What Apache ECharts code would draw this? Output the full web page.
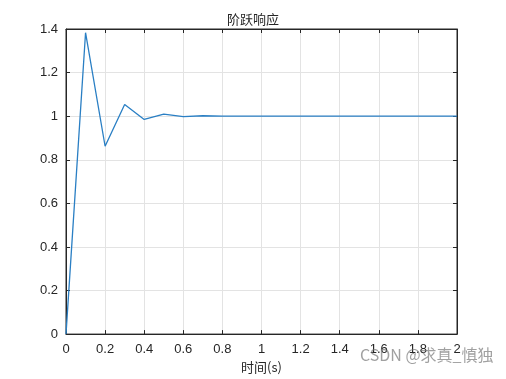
<!DOCTYPE html>
<html><head><meta charset="utf-8">
<script src="https://cdn.jsdelivr.net/npm/echarts@6/dist/echarts.min.js"></script>
<style>html,body{margin:0;padding:0;background:#fff}#c{width:506px;height:379px}</style>
</head><body><div id="c"></div>
<script>
const titleText = '阶跃响应';
const xLabel = '时间(s)';
const watermark = 'CSDN @求真_慎独';
const times = [0,0.1,0.2,0.3,0.4,0.5,0.6,0.7,0.8,0.9,1.0,1.1,1.2,1.3,1.4,1.5,1.6,1.7,1.8,1.9,2.0];
const response = [0,1.383,0.862,1.054,0.985,1.009,0.998,1.002,1.0,1.0,1.0,1.0,1.0,1.0,1.0,1.0,1.0,1.0,1.0,1.0,1.0];

const chart = echarts.init(document.getElementById('c'));
const axisFont = {fontFamily:'Liberation Sans, Arial', fontSize:13, color:'#262626'};
const tick = {show:true,inside:true,length:4,lineStyle:{color:'#262626'}};
const line = {show:true,onZero:false,lineStyle:{color:'#262626'}};
const grid = {show:true,lineStyle:{color:'#e3e3e3'}};
const fmt = v=>String(+v.toFixed(1));
chart.setOption({
  animation:false,
  title:{text:titleText,left:'center',top:8,textStyle:{fontFamily:'Noto Sans CJK SC',fontSize:13,fontWeight:'normal',color:'#262626'}},
  graphic:[{type:'text',left:360,top:347,z:100,style:{text:watermark,fontFamily:'Noto Sans CJK SC, Liberation Sans',fontSize:16,fill:'rgba(120,120,120,0.7)'}}],
  grid:{left:66,right:49,top:29,bottom:41,show:true,borderColor:'#262626',borderWidth:1},
  xAxis:[{type:'value',min:0,max:2,interval:0.2,name:xLabel,nameLocation:'middle',nameGap:22,
    nameTextStyle:{fontFamily:'Noto Sans CJK SC',fontSize:13,color:'#262626'},
    axisLine:line,axisTick:tick,
    axisLabel:Object.assign({margin:9,formatter:fmt},axisFont),
    splitLine:grid},
    {type:'value',position:'top',min:0,max:2,interval:0.2,axisLine:line,axisTick:tick,axisLabel:{show:false},splitLine:{show:false}}],
  yAxis:[{type:'value',min:0,max:1.4,interval:0.2,
    axisLine:line,axisTick:tick,
    axisLabel:Object.assign({margin:8,formatter:fmt},axisFont),
    splitLine:grid},
    {type:'value',position:'right',min:0,max:1.4,interval:0.2,axisLine:line,axisTick:tick,axisLabel:{show:false},splitLine:{show:false}}],
  series:[{type:'line',data:times.map((t,i)=>[t,response[i]]),showSymbol:false,lineStyle:{color:'#2a7fc4',width:1.3}}]
});
</script></body></html>
